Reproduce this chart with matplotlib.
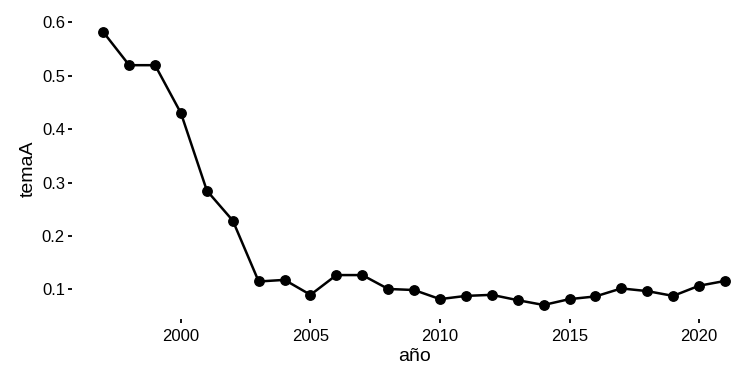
import matplotlib
matplotlib.use("Agg")
import matplotlib.pyplot as plt

plt.rcParams['font.family'] = ['Liberation Sans', 'DejaVu Sans']

anio = [1997, 1998, 1999, 2000, 2001, 2002, 2003, 2004, 2005, 2006, 2007, 2008, 2009,
        2010, 2011, 2012, 2013, 2014, 2015, 2016, 2017, 2018, 2019, 2020, 2021]
temaA = [0.582, 0.520, 0.520, 0.430, 0.285, 0.229, 0.115, 0.118, 0.090, 0.127, 0.127, 0.101, 0.099,
         0.082, 0.088, 0.090, 0.080, 0.071, 0.082, 0.087, 0.102, 0.097, 0.088, 0.107, 0.116]
xticks = [2000, 2005, 2010, 2015, 2020]
yticks = [0.1, 0.2, 0.3, 0.4, 0.5, 0.6]

fig = plt.figure(figsize=(7.36, 3.67), dpi=100)
# panel runs past the right edge, as in the (cropped) original
ax = fig.add_axes([72.2/736, 1 - 318.6/367, (756 - 72.2)/736, (318.6 - 18.4)/367])

ax.plot(anio, temaA, color='black', lw=1.8, marker='o', ms=6.8)

ax.set_xlim(1995.8, 2022.2)
ax.set_ylim(0.0455, 0.6076)
ax.set_xticks(xticks)
ax.set_yticks(yticks)
ax.set_yticklabels([f"{v:.1f}" for v in yticks])

for s in ax.spines.values():
    s.set_visible(False)
ax.tick_params(length=3.2, width=1.3, labelsize=12, colors='black')
ax.tick_params(axis='y', pad=2)
ax.tick_params(axis='x', pad=4.5)

ax.set_xlabel("año", fontsize=14, labelpad=2.5)
ax.set_ylabel("temaA", fontsize=14, labelpad=4)

fig.savefig("out.png", dpi=100)
